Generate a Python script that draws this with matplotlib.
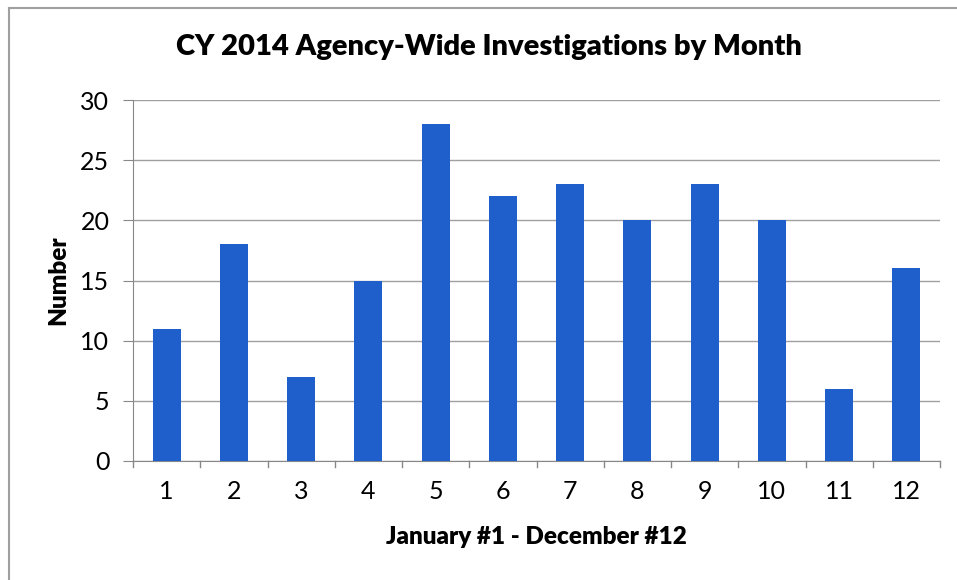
import matplotlib
matplotlib.use("Agg")
import matplotlib.pyplot as plt
from matplotlib.lines import Line2D

months = [1, 2, 3, 4, 5, 6, 7, 8, 9, 10, 11, 12]
counts = [11, 18, 7, 15, 28, 22, 23, 20, 23, 20, 6, 16]
yticks = [0, 5, 10, 15, 20, 25, 30]

plt.rcParams['font.family'] = ['Lato', 'DejaVu Sans']

W, H = 957, 580
fig = plt.figure(figsize=(W / 100, H / 100), dpi=100)
ax = fig.add_axes([133 / W, 1 - 461 / H, (940 - 133) / W, (461 - 100) / H])

x = list(range(len(months)))
ax.bar(x, counts, width=0.42, color='#1f5fcc', zorder=3)

ax.set_xlim(-0.5, len(months) - 0.5)
ax.set_ylim(0, 30)
ax.set_yticks(yticks)
ax.set_yticklabels([str(v) for v in yticks], fontsize=18)
ax.set_xticks(x)
ax.set_xticklabels([str(m) for m in months], fontsize=18)
ax.tick_params(axis='x', length=0, pad=14)
ax.tick_params(axis='y', length=7, color='#888888', pad=10)
# boundary ticks on x axis
for b in [i - 0.5 for i in range(len(months) + 1)]:
    ax.plot([b, b], [0, -0.5], color='#888888', lw=1, clip_on=False, zorder=4)

ax.grid(axis='y', color='#a0a0a0', lw=1, zorder=0)
for s in ['top', 'right']:
    ax.spines[s].set_visible(False)
ax.spines['left'].set_color('#888888')
ax.spines['bottom'].set_color('#888888')

ax.set_ylabel('Number', fontsize=17.5, fontweight='heavy', labelpad=8)
ax.set_xlabel('January #1 - December #12', fontsize=17.5, fontweight='heavy', labelpad=16)
fig.text(489 / W, 1 - 47 / H, 'CY 2014 Agency-Wide Investigations by Month',
         fontsize=21, fontweight='heavy', ha='center', va='center')

# outer frame (left and top edges visible)
fig.add_artist(Line2D([8.5 / W, 8.5 / W], [0, 1 - 8 / H], color='#a0a0a0', lw=1.5, transform=fig.transFigure))
fig.add_artist(Line2D([8.5 / W, 1], [1 - 8 / H, 1 - 8 / H], color='#a0a0a0', lw=1.5, transform=fig.transFigure))

fig.savefig('out.png', dpi=100)
